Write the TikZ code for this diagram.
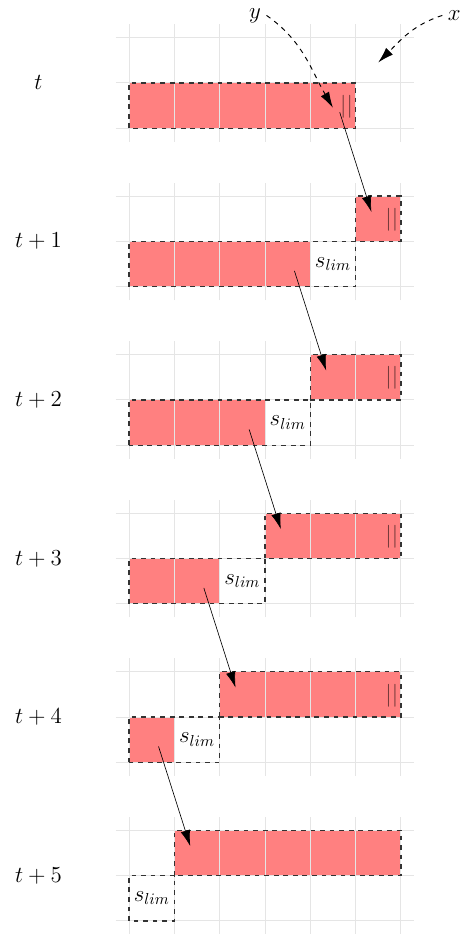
\documentclass[tikz,border=0pt]{standalone}
\usetikzlibrary{arrows.meta}
\begin{document}
\begin{tikzpicture}[gridline/.style={gray!20,line width=0.6pt},
  blockline/.style={black!80,dashed,line width=0.8pt},
  hop/.style={-{Latex[length=10pt,width=6pt]}},
  pointer/.style={hop,dashed,semithick},
  lbl/.style={font=\Large},
  fullmark/.style={lbl,text=black,text opacity=0.6}]
\definecolor{blockred}{HTML}{FF8080}
\useasboundingbox (-2.85,-17.79) rectangle (7.35,2.83);
\fill[blockred] (0,0) rectangle (5,1);
\draw[blockred,line width=0.5pt] (6,1) -- (6,2);
\foreach \k/\red/\lim in {1/4/5,2/3/4,3/2/3,4/1/2,5/0/1}
{ \begin{scope}[shift={(0,-3.5*\k)}]
  \fill[blockred] (0,0) rectangle (\red,1) (\lim,1) rectangle (6,2);
  \end{scope}}
\foreach \k/\lab in {0/t,1/t+1,2/t+2,3/t+3,4/t+4,5/t+5}
{ \begin{scope}[shift={(0,-3.5*\k)}]
  \foreach \i in {0,1,2} \draw[gridline] (-0.3,\i) -- (6.3,\i);
  \foreach \j in {0,...,6} \draw[gridline] (\j,-0.3) -- (\j,2.3);
  \node[lbl] (t\k) at (-2,1) {$\lab$};
  \end{scope}}
\draw[blockline] (0,0) rectangle (5,1);
\node[fullmark] (bar0) at (4.8,0.48) {$||$};
\coordinate (out0) at (4.65,0.35);
\foreach \k/\red/\lim in {1/4/5,2/3/4,3/2/3,4/1/2,5/0/1}
{ \begin{scope}[shift={(0,-3.5*\k)}]
  \draw[blockline] (0,0) rectangle (\lim,1) (\lim,1) rectangle (6,2);
  \node[lbl] (lim\k) at (\red+0.5,0.5) {$s_{lim}$};
  \ifnum\k<5 \node[fullmark] (bar\k) at (5.8,1.48) {$||$}; \fi
  \coordinate (out\k) at (\red-0.35,0.35);
  \coordinate (in\k) at (\lim+0.35,1.65);
  \end{scope}}
\foreach \k/\n in {0/1,1/2,2/3,3/4,4/5}
  \draw[hop] (out\k) -- (in\n);
\node[lbl] (ylab) at (2.78,2.49) {$y$};
\node[lbl] (xlab) at (7.18,2.49) {$x$};
\coordinate (ytip) at (4.5,0.45);
\coordinate (xtip) at (5.5,1.45);
\draw[pointer] (ylab.east) to[out=-35,in=120] (ytip);
\draw[pointer] (xlab.west) to[out=198,in=45] (xtip);
\end{tikzpicture}
\end{document}
